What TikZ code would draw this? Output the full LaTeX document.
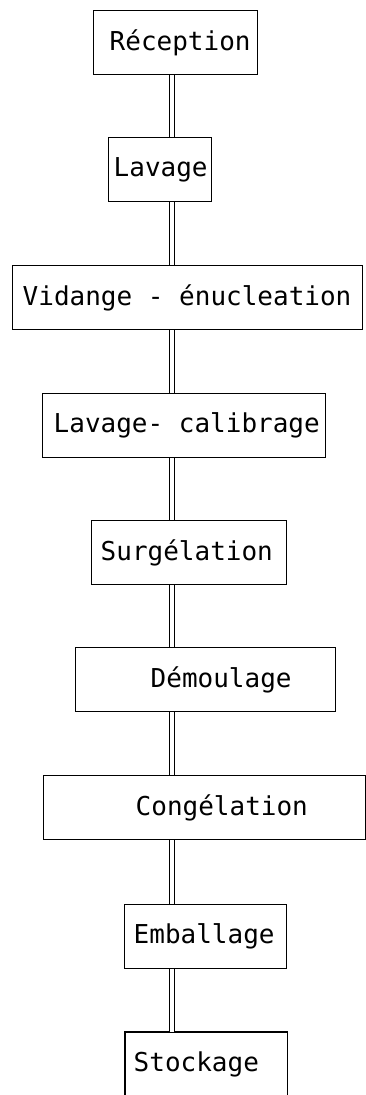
\documentclass[tikz,border=0pt]{standalone}
\usepackage{fontspec}
\setmonofont{DejaVu Sans Mono}
\usetikzlibrary {positioning}

\newcommand{\steptext}[2]{\makebox[#1][l]{#2}}

\begin{document}
\begin{tikzpicture}[x=1pt, y=-1pt,
        stepbox/.style={draw, line width=1.4pt, anchor=north west,
            minimum height=64pt, inner ysep=0pt,
            font=\ttfamily\fontsize{26}{30}\selectfont},
        openbox/.style={stepbox, draw=none},
        link/.style={double, double distance=3.6pt, line width=1.1pt}]

        \useasboundingbox (0,0) rectangle (366,1095);

        % boxes: text width = box width - 2 * left padding
        \node[stepbox, inner xsep=16pt] (rec) at (93,10) {\steptext{132pt}{Réception}};
        \node[stepbox, inner xsep=5pt] (lav) at (108,137) {\steptext{93pt}{Lavage}};
        \node[stepbox, inner xsep=10pt] (vid) at (12,265) {\steptext{330pt}{Vidange - énucleation}};
        \node[stepbox, inner xsep=11pt] (cal) at (42,393) {\steptext{261pt}{Lavage- calibrage}};
        \node[stepbox, inner xsep=9pt] (sur) at (91,520) {\steptext{177pt}{Surgélation}};
        \node[stepbox, inner xsep=75pt] (dem) at (75,647) {\steptext{110pt}{Démoulage}};
        \node[stepbox, inner xsep=92pt] (con) at (43,775) {\steptext{138pt}{Congélation}};
        \node[stepbox, inner xsep=9pt] (emb) at (124,904) {\steptext{144pt}{Emballage}};
        \node[openbox, inner xsep=8pt] (sto) at (125,1032) {\steptext{145pt}{Stockage}};
        % last box runs off the page
        \draw[line width=1.4pt] (sto.south west) -- (sto.north west) -- (sto.north east) -- (sto.south east);

        %connectors
        \coordinate (axis) at (172,0);
        \draw[link] (rec.south -| axis) -- (lav.north -| axis);
        \draw[link] (lav.south -| axis) -- (vid.north -| axis);
        \draw[link] (vid.south -| axis) -- (cal.north -| axis);
        \draw[link] (cal.south -| axis) -- (sur.north -| axis);
        \draw[link] (sur.south -| axis) -- (dem.north -| axis);
        \draw[link] (dem.south -| axis) -- (con.north -| axis);
        \draw[link] (con.south -| axis) -- (emb.north -| axis);
        \draw[link] (emb.south -| axis) -- (sto.north -| axis);
    \end{tikzpicture}
\end{document}
